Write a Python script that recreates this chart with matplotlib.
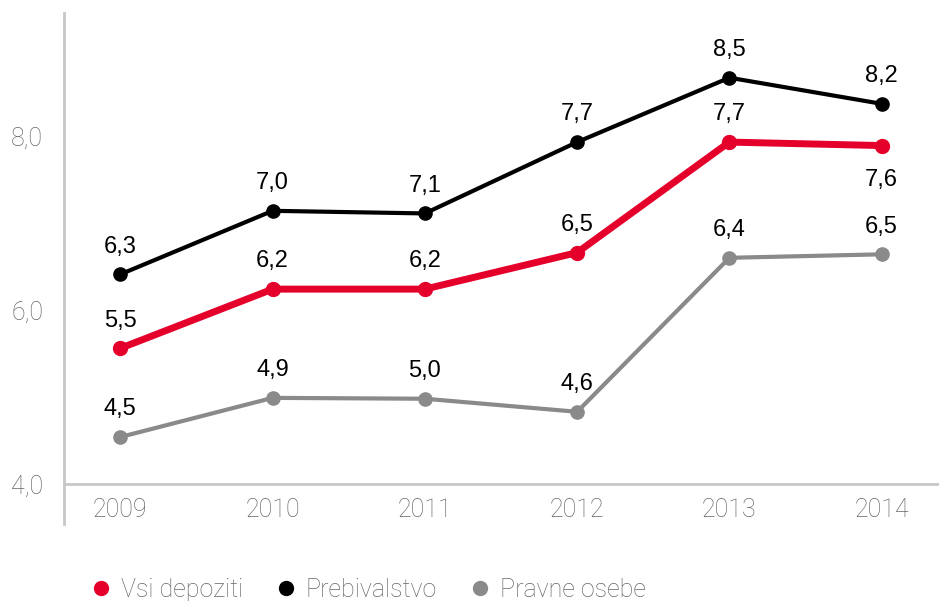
import matplotlib
matplotlib.use("Agg")
import matplotlib.pyplot as plt
from matplotlib.lines import Line2D

years = ["2009", "2010", "2011", "2012", "2013", "2014"]
vsi = [5.56, 6.24, 6.24, 6.66, 7.93, 7.89]
preb = [6.41, 7.14, 7.11, 7.93, 8.67, 8.37]
prav = [4.54, 4.99, 4.98, 4.83, 6.60, 6.64]
vsi_lbl = ["5,5", "6,2", "6,2", "6,5", "7,7", "7,6"]
preb_lbl = ["6,3", "7,0", "7,1", "7,7", "8,5", "8,2"]
prav_lbl = ["4,5", "4,9", "5,0", "4,6", "6,4", "6,5"]
yticks = [4.0, 6.0, 8.0]
ytick_lbl = ["4,0", "6,0", "8,0"]
series_names = ["Vsi depoziti", "Prebivalstvo", "Pravne osebe"]

RED = "#E4002B"
BLACK = "#000000"
GRAY = "#8A8A8A"
TICK = "#666666"
AXC = "#C8C8C8"

W, H = 939, 601
fig = plt.figure(figsize=(W / 100, H / 100), dpi=100)
ax = fig.add_axes([64 / W, 1 - 484 / H, (938 - 64) / W, (484 - 13) / H])

x = list(range(len(years)))
ax.plot(x, prav, color=GRAY, lw=3.0, marker="o", ms=9.5, zorder=3, solid_capstyle="round")
ax.plot(x, preb, color=BLACK, lw=3.0, marker="o", ms=9.5, zorder=4, solid_capstyle="round")
ax.plot(x, vsi, color=RED, lw=5.0, marker="o", ms=10, zorder=5, solid_capstyle="round")

lab_font = dict(family=["Liberation Sans", "DejaVu Sans"], fontsize=17, color="black")
for vals, lbls, below in ((preb, preb_lbl, [False] * 6), (vsi, vsi_lbl, [False] * 5 + [True]), (prav, prav_lbl, [False] * 6)):
    for i, (v, t) in enumerate(zip(vals, lbls)):
        off = -24.5 if below[i] else 20
        ax.annotate(t, (i, v), xytext=(0, off), textcoords="offset points",
                    ha="center", va="center", **lab_font)

ax.set_xlim(-0.37, 5.37)
ax.set_ylim(4.0, 4.0 + 471 / 87)
ax.set_xticks(x)
ax.set_xticklabels(years)
ax.set_yticks(yticks)
ax.set_yticklabels(ytick_lbl)
tick_font = ["Roboto", "DejaVu Sans"]
for lab in ax.get_xticklabels() + ax.get_yticklabels():
    lab.set_family(tick_font)
    lab.set_fontweight("light")
    lab.set_fontsize(18)
    lab.set_color(TICK)
ax.tick_params(axis="both", length=0)
ax.tick_params(axis="x", pad=10)
ax.tick_params(axis="y", pad=15)

for s in ["top", "right", "left"]:
    ax.spines[s].set_visible(False)
ax.spines["bottom"].set_color(AXC)
ax.spines["bottom"].set_linewidth(2)
ax.add_line(Line2D([0, 0], [-40 / 471, 1], transform=ax.transAxes, color=AXC,
                   lw=2, clip_on=False))

handles = [Line2D([], [], color=c, marker="o", ls="none", ms=10) for c in (RED, BLACK, GRAY)]
leg = fig.legend(handles, series_names, loc="center left", bbox_to_anchor=(88.5 / W, 1 - 590 / H),
                 ncol=3, frameon=False, handletextpad=0.3, columnspacing=1.2,
                 handlelength=1.0, borderaxespad=0, borderpad=0,
                 prop=dict(family=tick_font, weight="light", size=18))
for t in leg.get_texts():
    t.set_color(TICK)

fig.savefig("out.png", dpi=100)
